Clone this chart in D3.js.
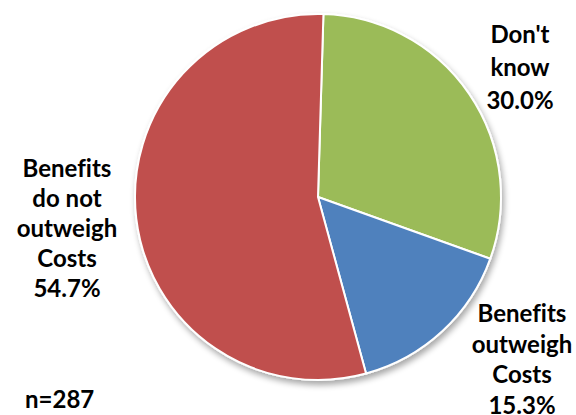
<!DOCTYPE html>
<html>
<head>
<meta charset="utf-8">
<script src="https://cdn.jsdelivr.net/npm/d3@7"></script>
<style>
  html, body { margin: 0; padding: 0; background: #fff; }
  svg { display: block; }
  text { font-family: Lato, "Open Sans", sans-serif; font-weight: bold; fill: #000;
         font-variant-ligatures: none; font-feature-settings: "liga" 0; }
</style>
</head>
<body>
<svg id="chart" width="576" height="415"></svg>
<script>
// Survey responses (share of respondents, %)
const categories = ["Don't know", "Benefits outweigh Costs", "Benefits do not outweigh Costs"];
const values = [30.0, 15.3, 54.7];
const colors = ["#9BBB59", "#4F81BD", "#C0504D"];
// Label text, one line per entry
const labelLines = [
  ["Don't", "know"],
  ["Benefits", "outweigh", "Costs"],
  ["Benefits", "do not", "outweigh", "Costs"]
];
const sampleNote = "n=287";

// Layout
const W = 576, H = 415;
const cx = 318, cy = 197, R = 183;
const startAngle = 1.7 * Math.PI / 180;
const labelLayout = [
  { x: 520, y: 43, step: 33 },
  { x: 522, y: 322, step: 30.7 },
  { x: 67, y: 177, step: 30 }
];

const svg = d3.select("#chart");

const defs = svg.append("defs");
const shadow = defs.append("filter").attr("id", "pieShadow")
  .attr("x", "-20%").attr("y", "-20%").attr("width", "140%").attr("height", "140%");
shadow.append("feGaussianBlur").attr("in", "SourceAlpha").attr("stdDeviation", 3).attr("result", "b");
shadow.append("feOffset").attr("in", "b").attr("dx", 2).attr("dy", 4).attr("result", "o");
shadow.append("feComponentTransfer").attr("in", "o").attr("result", "s")
  .append("feFuncA").attr("type", "linear").attr("slope", 0.35);
const merge = shadow.append("feMerge");
merge.append("feMergeNode").attr("in", "s");
merge.append("feMergeNode").attr("in", "SourceGraphic");

const pie = d3.pie().sort(null).value(d => d)
  .startAngle(startAngle).endAngle(startAngle + 2 * Math.PI);
const arcs = pie(values);
const arc = d3.arc().innerRadius(0).outerRadius(R);

const g = svg.append("g").attr("transform", `translate(${cx},${cy})`);
g.append("g").attr("filter", "url(#pieShadow)")
  .selectAll("path").data(arcs).join("path")
  .attr("d", arc)
  .attr("fill", (d, i) => colors[i])
  .attr("stroke", "#fff")
  .attr("stroke-width", 2)
  .attr("stroke-linejoin", "round");

const fmt = d3.format(".1f");
labelLayout.forEach((L, i) => {
  const lines = labelLines[i].concat([fmt(values[i]) + "%"]);
  const t = svg.append("text").attr("text-anchor", "middle").attr("font-size", 24);
  lines.forEach((s, k) => {
    t.append("tspan").attr("x", L.x).attr("y", L.y + k * L.step).text(s);
  });
});

svg.append("text").attr("x", 25).attr("y", 408).attr("font-size", 24).text(sampleNote);
</script>
</body>
</html>
